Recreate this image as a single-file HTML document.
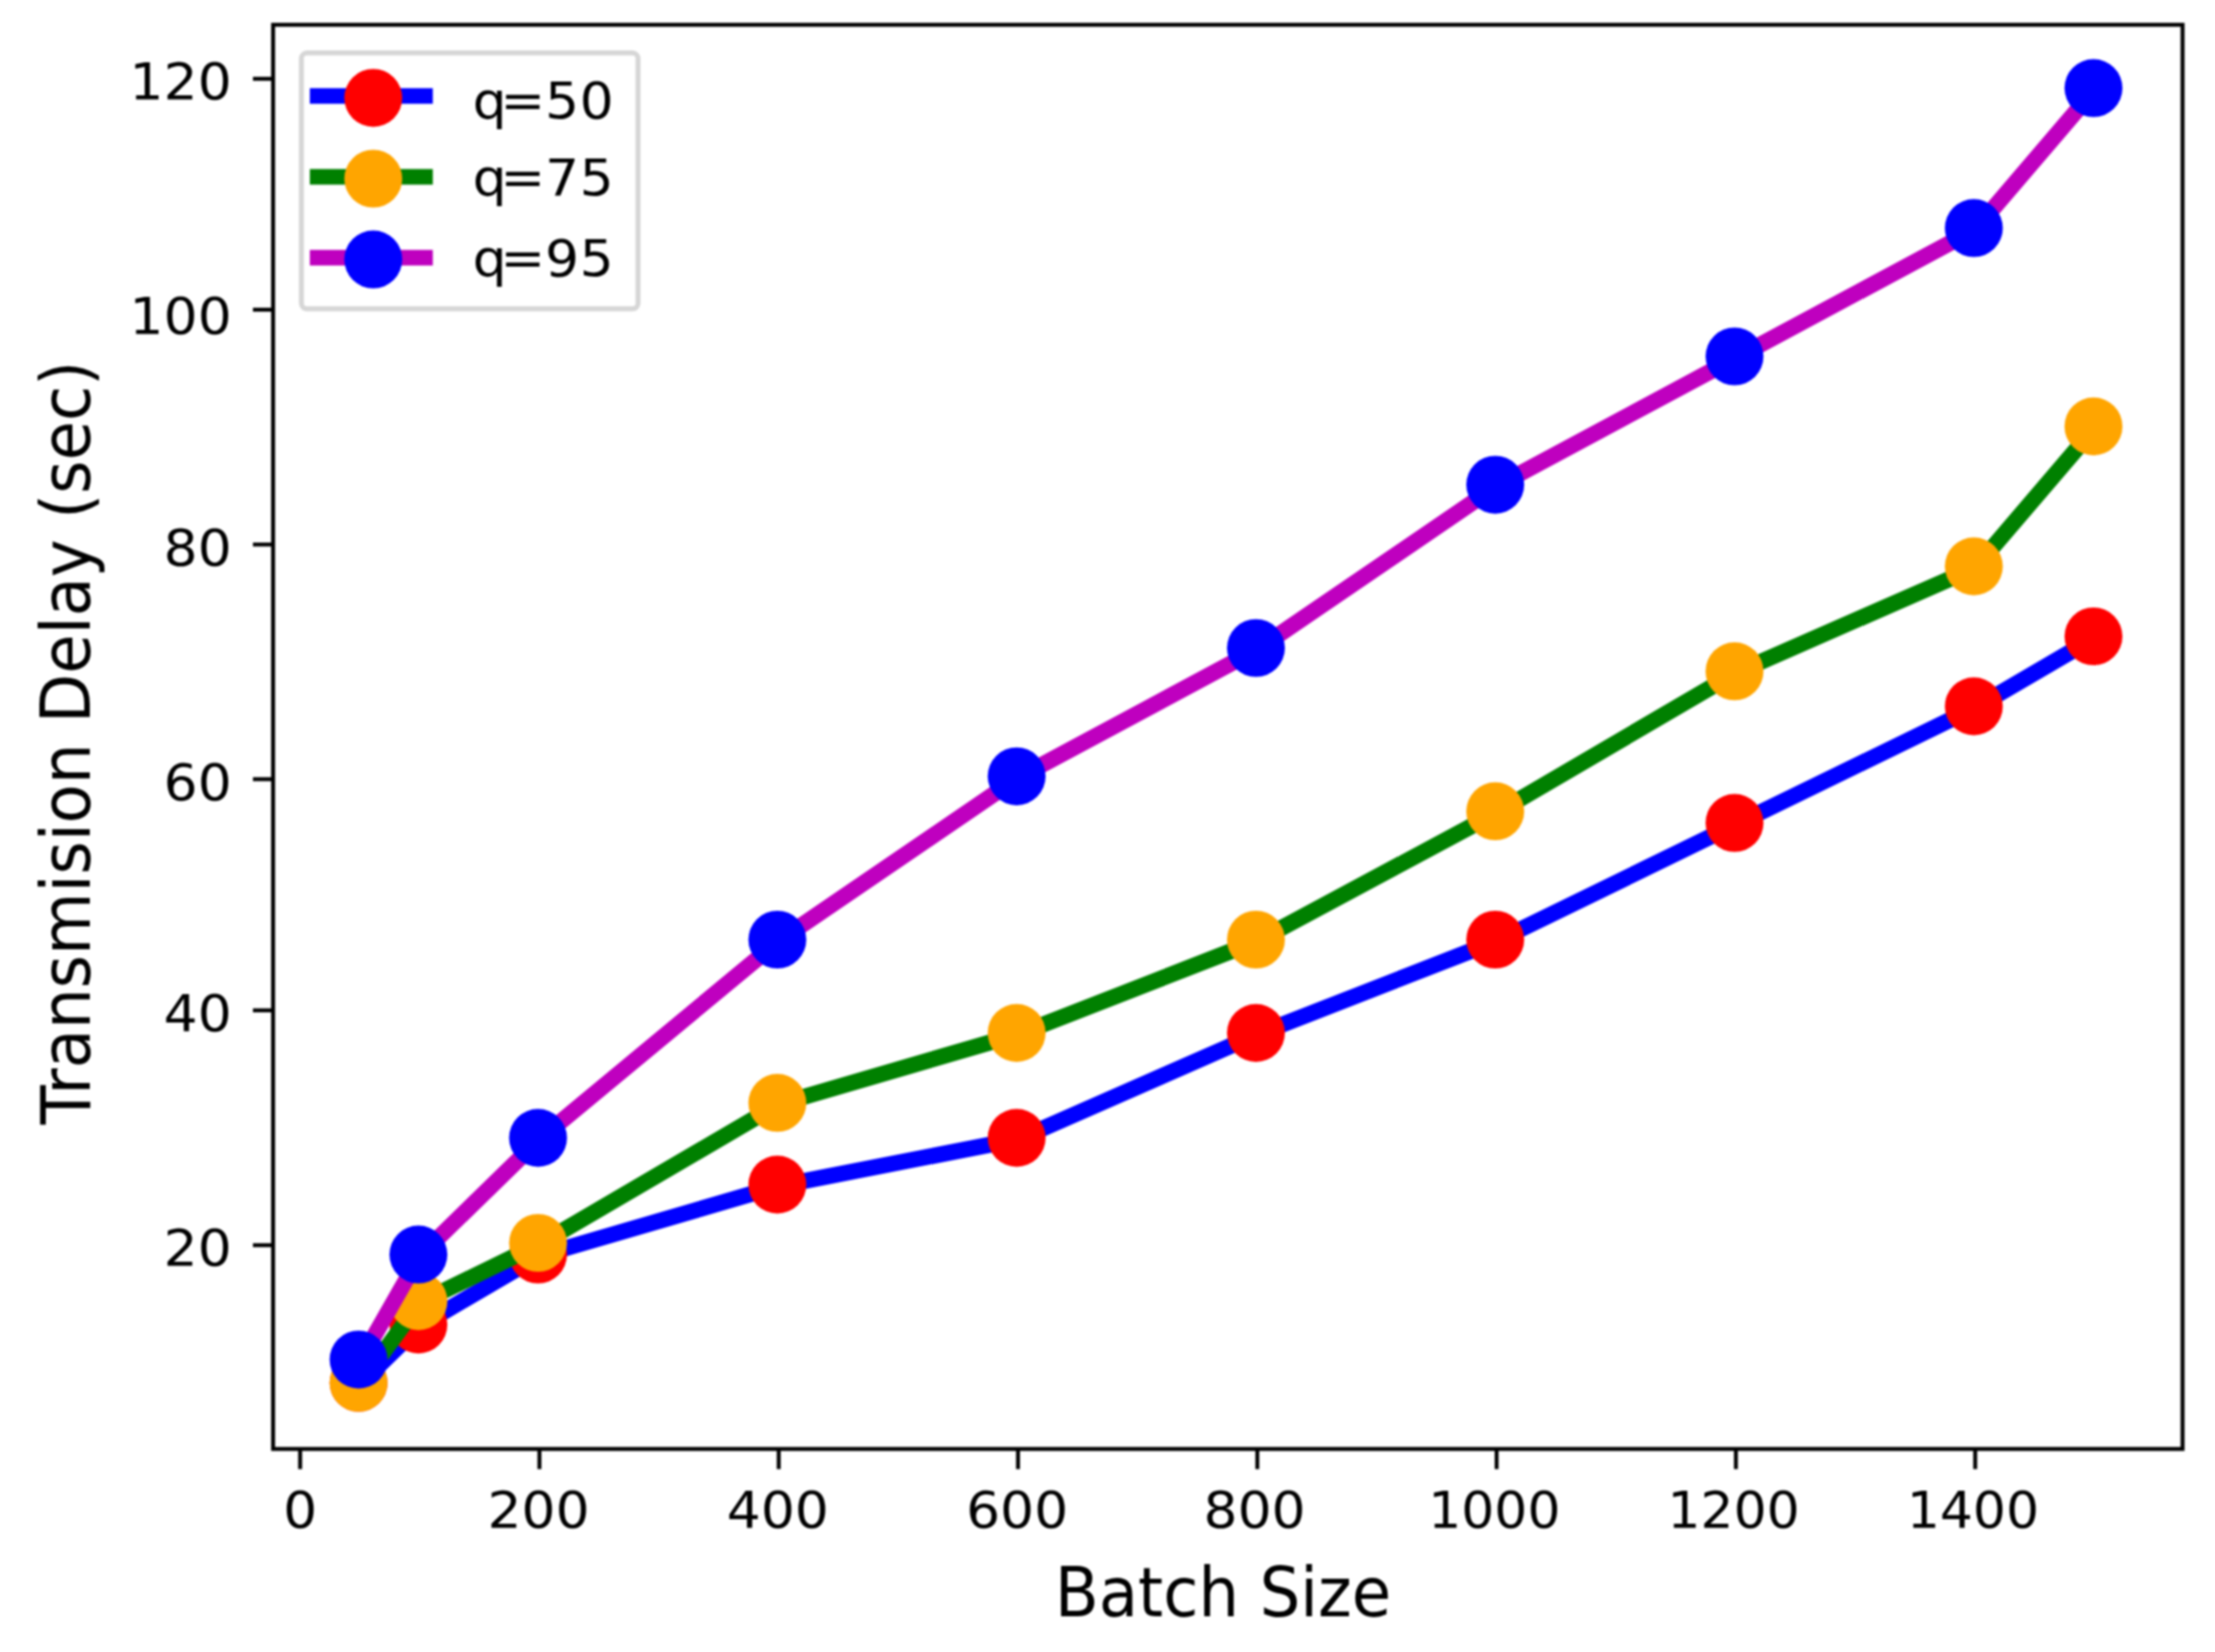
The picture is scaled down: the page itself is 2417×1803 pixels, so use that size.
<!DOCTYPE html>
<html lang="en"><head><meta charset="utf-8"><title>Transmision Delay vs Batch Size</title>
<style>html,body{margin:0;padding:0;background:#fff}body{width:2417px;height:1803px;overflow:hidden}svg{display:block;filter:blur(1.00px)}text{font-family:"DejaVu Sans","Liberation Sans",sans-serif;fill:#000}</style>
</head><body>
<svg width="2417" height="1803" viewBox="0 0 2417 1803">
<rect x="-20" y="-20" width="2457" height="1843" fill="#fff"/>
<g stroke="#000" stroke-width="4.30" fill="none">
<line x1="327.50" y1="1581.40" x2="327.50" y2="1603.40"/>
<line x1="588.62" y1="1581.40" x2="588.62" y2="1603.40"/>
<line x1="849.74" y1="1581.40" x2="849.74" y2="1603.40"/>
<line x1="1110.86" y1="1581.40" x2="1110.86" y2="1603.40"/>
<line x1="1371.98" y1="1581.40" x2="1371.98" y2="1603.40"/>
<line x1="1633.10" y1="1581.40" x2="1633.10" y2="1603.40"/>
<line x1="1894.22" y1="1581.40" x2="1894.22" y2="1603.40"/>
<line x1="2155.34" y1="1581.40" x2="2155.34" y2="1603.40"/>
<line x1="276.00" y1="1359.00" x2="298.00" y2="1359.00"/>
<line x1="276.00" y1="1102.70" x2="298.00" y2="1102.70"/>
<line x1="276.00" y1="850.40" x2="298.00" y2="850.40"/>
<line x1="276.00" y1="594.30" x2="298.00" y2="594.30"/>
<line x1="276.00" y1="338.00" x2="298.00" y2="338.00"/>
<line x1="276.00" y1="86.00" x2="298.00" y2="86.00"/>
</g>
<text transform="translate(327.50 1667.00) scale(1 0.950)" font-size="58.40" text-anchor="middle">0</text>
<text transform="translate(587.62 1667.00) scale(1 0.950)" font-size="58.40" text-anchor="middle">200</text>
<text transform="translate(848.74 1667.00) scale(1 0.950)" font-size="58.40" text-anchor="middle">400</text>
<text transform="translate(1109.86 1667.00) scale(1 0.950)" font-size="58.40" text-anchor="middle">600</text>
<text transform="translate(1368.98 1667.00) scale(1 0.950)" font-size="58.40" text-anchor="middle">800</text>
<text transform="translate(1630.60 1667.00) scale(0.972 0.950)" font-size="58.40" text-anchor="middle">1000</text>
<text transform="translate(1891.72 1667.00) scale(0.972 0.950)" font-size="58.40" text-anchor="middle">1200</text>
<text transform="translate(2152.84 1667.00) scale(0.972 0.950)" font-size="58.40" text-anchor="middle">1400</text>
<text transform="translate(252.80 1381.20) scale(1 0.950)" font-size="58.40" text-anchor="end">20</text>
<text transform="translate(252.80 1125.20) scale(1 0.950)" font-size="58.40" text-anchor="end">40</text>
<text transform="translate(252.80 873.00) scale(1 0.950)" font-size="58.40" text-anchor="end">60</text>
<text transform="translate(252.80 616.60) scale(1 0.950)" font-size="58.40" text-anchor="end">80</text>
<text transform="translate(252.80 364.30) scale(1 0.950)" font-size="58.40" text-anchor="end">100</text>
<text transform="translate(252.80 108.20) scale(1 0.950)" font-size="58.40" text-anchor="end">120</text>
<text transform="translate(1334.50 1764.00) scale(1 1.060)" font-size="70.00" text-anchor="middle">Batch Size</text>
<text transform="translate(98.4 810.4) rotate(-90) scale(1 1.060)" font-size="70.00" text-anchor="middle">Transmision Delay (sec)</text>
<polyline points="392.78,1510.75 458.06,1447.10 588.62,1370.72 849.74,1294.34 1110.86,1243.41 1371.98,1128.84 1633.10,1027.00 1894.22,899.70 2155.34,772.40 2285.90,696.02" fill="none" stroke="#0000ff" stroke-width="17.50" stroke-linejoin="round" stroke-linecap="square"/>
<g fill="#ff0000">
<circle cx="391.28" cy="1509.25" r="31.60"/>
<circle cx="456.56" cy="1445.60" r="31.60"/>
<circle cx="587.12" cy="1369.22" r="31.60"/>
<circle cx="848.24" cy="1292.84" r="31.60"/>
<circle cx="1109.36" cy="1241.91" r="31.60"/>
<circle cx="1370.48" cy="1127.34" r="31.60"/>
<circle cx="1631.60" cy="1025.50" r="31.60"/>
<circle cx="1892.72" cy="898.20" r="31.60"/>
<circle cx="2153.84" cy="770.90" r="31.60"/>
<circle cx="2284.40" cy="694.52" r="31.60"/>
</g>
<polyline points="392.78,1510.75 458.06,1421.64 588.62,1357.99 849.74,1205.22 1110.86,1128.84 1371.98,1027.00 1633.10,886.97 1894.22,734.21 2155.34,619.64 2285.90,466.88" fill="none" stroke="#008000" stroke-width="17.50" stroke-linejoin="round" stroke-linecap="square"/>
<g fill="#ffa500">
<circle cx="391.28" cy="1509.25" r="31.60"/>
<circle cx="456.56" cy="1420.14" r="31.60"/>
<circle cx="587.12" cy="1356.49" r="31.60"/>
<circle cx="848.24" cy="1203.72" r="31.60"/>
<circle cx="1109.36" cy="1127.34" r="31.60"/>
<circle cx="1370.48" cy="1025.50" r="31.60"/>
<circle cx="1631.60" cy="885.47" r="31.60"/>
<circle cx="1892.72" cy="732.71" r="31.60"/>
<circle cx="2153.84" cy="618.14" r="31.60"/>
<circle cx="2284.40" cy="465.38" r="31.60"/>
</g>
<polyline points="392.78,1485.29 458.06,1370.72 588.62,1243.41 849.74,1027.00 1110.86,848.78 1371.98,708.75 1633.10,530.53 1894.22,390.50 2155.34,250.46 2285.90,97.70" fill="none" stroke="#bf00bf" stroke-width="17.50" stroke-linejoin="round" stroke-linecap="square"/>
<g fill="#0000ff">
<circle cx="391.28" cy="1483.79" r="31.60"/>
<circle cx="456.56" cy="1369.22" r="31.60"/>
<circle cx="587.12" cy="1241.91" r="31.60"/>
<circle cx="848.24" cy="1025.50" r="31.60"/>
<circle cx="1109.36" cy="847.28" r="31.60"/>
<circle cx="1370.48" cy="707.25" r="31.60"/>
<circle cx="1631.60" cy="529.03" r="31.60"/>
<circle cx="1892.72" cy="389.00" r="31.60"/>
<circle cx="2153.84" cy="248.96" r="31.60"/>
<circle cx="2284.40" cy="96.20" r="31.60"/>
</g>
<rect x="298.00" y="27.05" width="2083.60" height="1554.35" fill="none" stroke="#000" stroke-width="4.30"/>
<rect x="328.90" y="57.80" width="367.30" height="279.20" rx="6" ry="6" fill="#fff" fill-opacity="0.8" stroke="#ccc" stroke-opacity="0.8" stroke-width="5.4"/>
<line x1="338.1" y1="104.70" x2="472.3" y2="104.70" stroke="#0000ff" stroke-width="17"/>
<circle cx="407.3" cy="106.80" r="31.60" fill="#ff0000"/>
<text transform="translate(0 129.00) scale(1 0.950)" font-size="58.40" x="515.7 546.1 594.8 632.4">q=50</text>
<line x1="338.1" y1="193.00" x2="472.3" y2="193.00" stroke="#008000" stroke-width="17"/>
<circle cx="407.3" cy="195.00" r="31.60" fill="#ffa500"/>
<text transform="translate(0 213.00) scale(1 0.950)" font-size="58.40" x="515.7 546.1 594.8 632.4">q=75</text>
<line x1="338.1" y1="281.30" x2="472.3" y2="281.30" stroke="#bf00bf" stroke-width="17"/>
<circle cx="407.3" cy="283.20" r="31.60" fill="#0000ff"/>
<text transform="translate(0 301.00) scale(1 0.950)" font-size="58.40" x="515.7 546.1 594.8 632.4">q=95</text>
</svg>
</body></html>
